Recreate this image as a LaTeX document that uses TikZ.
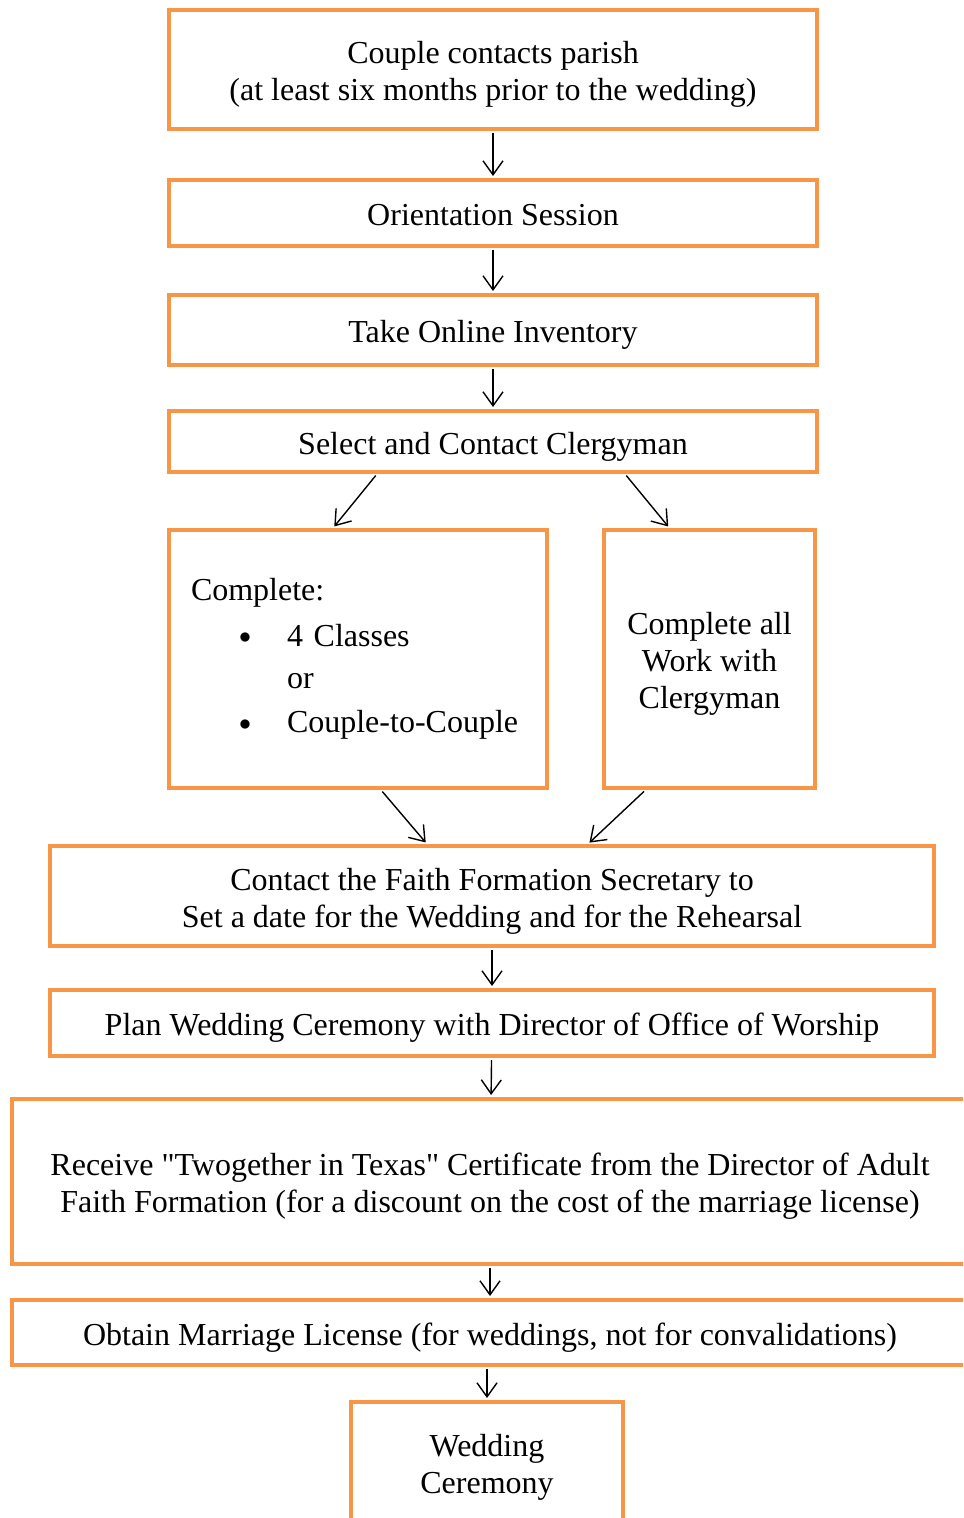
\documentclass[tikz,border=0pt]{standalone}
\usepackage{fontspec}
\setmainfont{Liberation Serif}
\usetikzlibrary{arrows.meta}
\definecolor{boxorange}{RGB}{247,150,70}
\newcommand{\flowbullet}{\raisebox{1.2pt}{\fontsize{13}{13}\selectfont$\bullet$}}
\newcommand{\topstrut}{\rule{0pt}{16.5pt}}
\newcommand{\botstrut}{\rule[-3.9pt]{0pt}{3.9pt}}

\begin{document}
\begin{tikzpicture}[x=0.5pt,y=-0.5pt,
  base/.style={draw=boxorange,line width=2pt,inner sep=0pt,
    font=\fontsize{16}{18.4}\selectfont},
  box/.style={base,minimum width=324pt,align=center,
    execute at begin node={\topstrut},execute at end node={\botstrut}},
  arr/.style={-{Straight Barb[length=7pt,width=10pt]},line width=0.7pt,
    shorten <=1pt,shorten >=1pt}]
  \useasboundingbox (0,0) rectangle (963,1518);
  \clip (0,0) rectangle (963,1518);
  \node[box,minimum height=59.5pt] (contact) at (493,69.5)
    {\topstrut Couple contacts parish\\(at least six months prior to the wedding)\botstrut};
  \node[box,minimum height=33pt] (orient) at (493,213) {Orientation Session};
  \node[box,minimum height=35pt] (invent) at (493,330) {Take Online Inventory};
  \node[box,minimum height=30.5pt] (clergy) at (493,441.5) {Select and Contact Clergyman};
  \node[base,minimum width=189pt,minimum height=129pt,align=left,text width=167pt] (classes) at (358,659)
    {Complete:\\[4.5pt]
     \hspace*{24pt}\makebox[24pt][l]{\flowbullet}4 Classes\\[2.5pt]
     \hspace*{48pt}or\\[4pt]
     \hspace*{24pt}\makebox[24pt][l]{\flowbullet}Couple-to-Couple};
  \node[box,minimum width=105.5pt,minimum height=129pt] (work) at (709.5,659)
    {\topstrut Complete all\\Work with\\Clergyman\botstrut};
  \node[box,minimum width=442pt,minimum height=50pt] (faith) at (492,896)
    {\topstrut Contact the Faith Formation Secretary to\\Set a date for the Wedding and for the Rehearsal\botstrut};
  \node[box,minimum width=442pt,minimum height=33pt] (plan) at (492,1023)
    {Plan Wedding Ceremony with Director of Office of Worship};
  \node[box,minimum width=478pt,minimum height=82.5pt] (receive) at (490,1181.5)
    {\topstrut Receive \textquotedbl Twogether in Texas\textquotedbl{} Certificate from the Director of Adult\\Faith Formation (for a discount on the cost of the marriage license)\botstrut};
  \node[box,minimum width=478pt,minimum height=32.5pt] (license) at (490,1332.5)
    {Obtain Marriage License (for weddings, not for convalidations)};
  \node[box,minimum width=136pt,minimum height=60pt] (wedding) at (487,1462)
    {\topstrut Wedding\\Ceremony\botstrut};
  \draw[arr] (contact) -- (orient);
  \draw[arr] (orient) -- (invent);
  \draw[arr] (invent) -- (clergy);
  \draw[arr] ([xshift=-58pt]clergy.south) -- ([xshift=-12.5pt]classes.north);
  \draw[arr] ([xshift=66pt]clergy.south) -- ([xshift=-20pt]work.north);
  \draw[arr] ([xshift=11.5pt]classes.south) -- ([xshift=-32.5pt]faith.north);
  \draw[arr] ([xshift=-32pt]work.south) -- ([xshift=48pt]faith.north);
  \draw[arr] (faith) -- (plan);
  \draw[arr] (plan) -- (receive);
  \draw[arr] (receive) -- (license);
  \draw[arr] (license.south -| wedding.north) -- (wedding.north);
\end{tikzpicture}
\end{document}
